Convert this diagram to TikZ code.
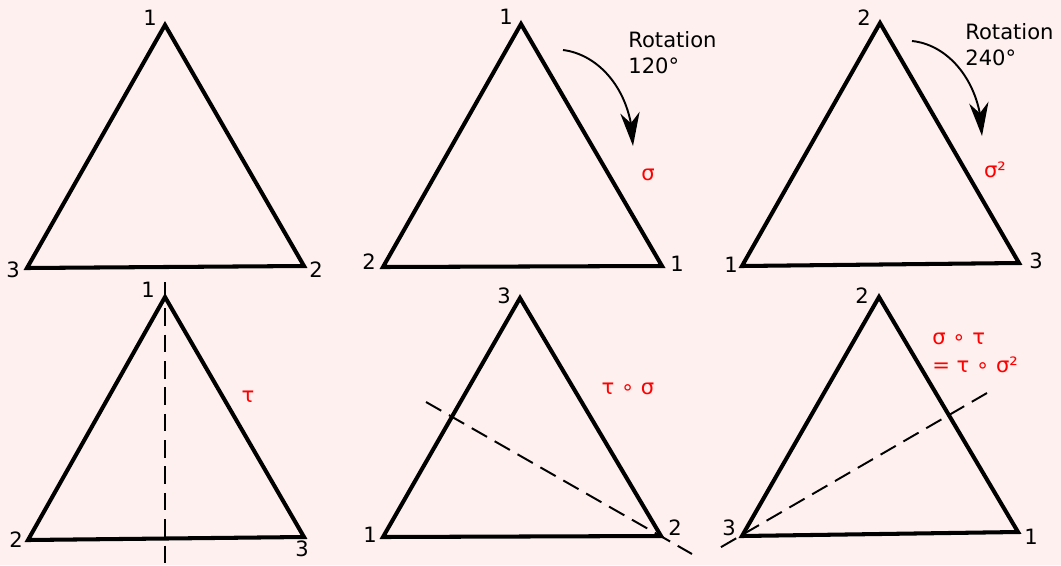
\documentclass[tikz,border=0pt]{standalone}
\usepackage{fontspec}
\setmainfont{DejaVu Sans}
\usetikzlibrary{arrows.meta,bending}
\definecolor{bgpink}{RGB}{253,240,238}

\begin{document}
\begin{tikzpicture}[x=0.02cm, y=-0.02cm,
  edge/.style={line width=2.3pt},
  axis/.style={line width=1.1pt, dash pattern=on 10pt off 5pt},
  num/.style={inner sep=0pt, font=\fontsize{12}{14}\selectfont},
  lab/.style={inner sep=0pt, text=red, align=left,
              font=\fontsize{12}{16}\selectfont},
  rottxt/.style={inner sep=0pt, align=left, anchor=north west,
                 font=\fontsize{12}{14.7}\selectfont},
  a/.style={-{Stealth[length=19pt, width=11pt, inset=6pt]}, line width=1.1pt}]

  \fill[bgpink] (0,0) rectangle (1061,565);
  \useasboundingbox (0,0) rectangle (1061,565);

  % identity
  \coordinate (ia) at (165,25);
  \coordinate (ib) at (27,268);
  \coordinate (ic) at (304,266);
  \draw[edge] (ia) -- (ib) -- (ic) -- cycle;
  \node[num] (ia1) at (150,18)  {1};
  \node[num] (ib3) at (13,270)  {3};
  \node[num] (ic2) at (316,270) {2};

  % rotation 120
  \coordinate (ra) at (521,24);
  \coordinate (rb) at (383,267);
  \coordinate (rc) at (662,266);
  \draw[edge] (ra) -- (rb) -- (rc) -- cycle;
  \node[num] (ra1) at (506,17)  {1};
  \node[num] (rb2) at (369,262) {2};
  \node[num] (rc1) at (677,264) {1};
  \node[rottxt] (rtxt) at (628,31) {Rotation\\120°};
  \coordinate (rs) at (563,50);
  \coordinate (re) at (633,146);
  \draw[a] (rs) .. controls (602,55) and (633,95) .. (re);
  \node[lab] (sig) at (648,175) {σ};

  % rotation 240
  \coordinate (sa) at (880,23);
  \coordinate (sb) at (742,266);
  \coordinate (sc) at (1019,263);
  \draw[edge] (sa) -- (sb) -- (sc) -- cycle;
  \node[num] (sa2) at (864,18)  {2};
  \node[num] (sb1) at (731,265) {1};
  \node[num] (sc3) at (1036,261) {3};
  \node[rottxt] (stxt) at (965,23) {Rotation\\240°};
  \coordinate (ss) at (912,41);
  \coordinate (se) at (982,136);
  \draw[a] (ss) .. controls (951,45) and (982,86) .. (se);
  \node[lab] (sig2) at (995,170) {σ²};

  % reflection tau
  \coordinate (ta) at (165,297);
  \coordinate (tb) at (28,540);
  \coordinate (tc) at (304,537);
  \draw[edge] (ta) -- (tb) -- (tc) -- cycle;
  \node[num] (ta1) at (148,290) {1};
  \node[num] (tb2) at (16,540)  {2};
  \node[num] (tc3) at (302,549) {3};
  \coordinate (tt) at (165,282);
  \coordinate (tu) at (165,565);
  \draw[axis] (tt) -- (tu);
  \node[lab] (tau) at (248,397) {τ};

  % tau o sigma
  \coordinate (ua) at (520,298);
  \coordinate (ub) at (383,537);
  \coordinate (uc) at (661,536);
  \draw[edge] (ua) -- (ub) -- (uc) -- cycle;
  \node[num] (ua3) at (504,296) {3};
  \node[num] (ub1) at (370,535) {1};
  \node[num] (uc2) at (675,528) {2};
  \coordinate (ut) at (426,402);
  \coordinate (uu) at (692,554);
  \draw[axis] (ut) -- (uu);
  \node[lab] (taus) at (628,389) {τ ∘ σ};

  % sigma o tau
  \coordinate (va) at (879,297);
  \coordinate (vb) at (742,536);
  \coordinate (vc) at (1018,532);
  \draw[edge] (va) -- (vb) -- (vc) -- cycle;
  \node[num] (va2) at (862,296) {2};
  \node[num] (vb3) at (729,528) {3};
  \node[num] (vc1) at (1031,537) {1};
  \coordinate (vt) at (987,393);
  \coordinate (vu) at (716,550);
  \draw[axis] (vt) -- (vu);
  \node[lab, anchor=north west] (sigt) at (932,333) {σ ∘ τ\\= τ ∘ σ²};

\end{tikzpicture}
\end{document}
